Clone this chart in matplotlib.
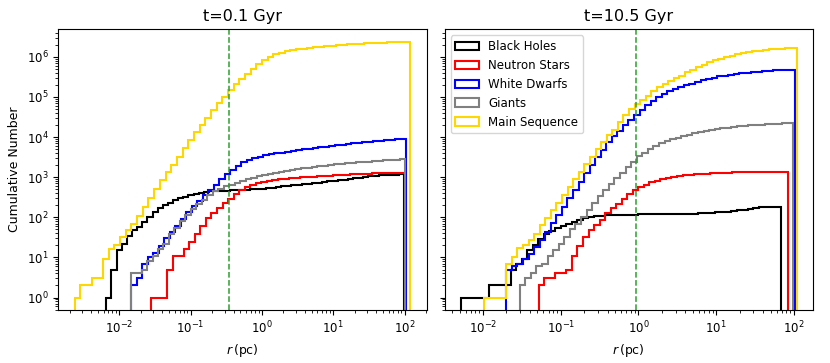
import numpy as np
import matplotlib
matplotlib.use("Agg")
import matplotlib.pyplot as plt

labels = ["Black Holes", "Neutron Stars", "White Dwarfs", "Giants", "Main Sequence"]
colors = ["black", "red", "blue", "grey", "gold"]
titles = ["t=0.1 Gyr", "t=10.5 Gyr"]
rcut = [0.343, 0.92]

# ---- t = 0.1 Gyr : radial range (pc) and cumulative counts per log bin ----
r_range_0 = {
    "Black Holes": (0.00655, 99.5),
    "Neutron Stars": (0.0274, 102.0),
    "White Dwarfs": (0.01466, 106.0),
    "Giants": (0.01435, 102.0),
    "Main Sequence": (0.00236, 118.0),
}
bh_0 = [1, 5, 15, 21, 34, 47, 58, 78, 104, 134, 168, 200, 233, 265, 297, 325, 360, 390,
        410, 435, 445, 452, 458, 462, 467, 472, 478, 485, 495, 505, 520, 535, 550, 570,
        590, 605, 625, 640, 660, 685, 710, 735, 760, 785, 810, 840, 870, 910, 945, 980,
        1010, 1040, 1070, 1100, 1120, 1140, 1160, 1180]
ns_0 = [1, 1, 1, 5, 11, 11, 16, 24, 38, 61, 95, 125, 175, 223, 290, 390, 470, 560, 640,
        700, 760, 800, 840, 880, 910, 940, 965, 990, 1010, 1035, 1055, 1075, 1095, 1110,
        1130, 1150, 1170, 1190, 1210, 1225, 1240, 1255, 1265, 1275, 1285, 1290]
wd_0 = [2, 3, 7, 10, 13, 19, 30, 43, 62, 90, 135, 190, 260, 350, 480, 650, 880, 1200,
        1550, 1950, 2350, 2700, 3000, 3250, 3500, 3700, 3900, 4100, 4300, 4500, 4750,
        4950, 5150, 5350, 5550, 5750, 6000, 6200, 6500, 6750, 7000, 7200, 7400, 7600,
        7850, 8050, 8250, 8500, 8700, 8900]
gi_0 = [4, 4, 5, 8, 11, 16, 22, 38, 55, 80, 115, 160, 215, 270, 360, 440, 520, 590, 650,
        720, 800, 880, 960, 1050, 1130, 1210, 1290, 1370, 1440, 1520, 1590, 1660, 1730,
        1800, 1870, 1940, 2000, 2070, 2130, 2200, 2260, 2320, 2380, 2440, 2500, 2560,
        2620, 2680, 2740, 2800]
ms_0 = [1, 2, 2, 3, 3, 9, 16, 20, 33, 48, 67, 110, 185, 300, 510, 850, 1380, 2000, 3200,
        5200, 8500, 13000, 20000, 30000, 47000, 69000, 100000, 150000, 205000, 280000,
        380000, 490000, 650000, 830000, 990000, 1150000, 1260000, 1360000, 1440000,
        1520000, 1590000, 1650000, 1710000, 1760000, 1810000, 1870000, 1920000, 1970000,
        2020000, 2060000, 2100000, 2140000, 2180000, 2210000, 2240000, 2270000, 2300000,
        2320000, 2350000]

# ---- t = 10.5 Gyr ----
r_range_1 = {
    "Black Holes": (0.00526, 68.1),
    "Neutron Stars": (0.0521, 83.0),
    "White Dwarfs": (0.0200, 103.0),
    "Giants": (0.02965, 96.4),
    "Main Sequence": (0.01028, 108.0),
}
bh_1 = [1, 1, 1, 1, 1, 2, 2, 2, 2, 5, 7, 9, 15, 20, 28, 38, 46, 53, 62, 70, 78, 86, 94,
        101, 106, 110, 112, 113, 114, 115, 116, 117, 118, 118, 119, 119, 120, 120, 121,
        121, 122, 123, 124, 126, 128, 130, 132, 135, 139, 143, 148, 155, 162, 170, 176,
        180, 183, 185]
ns_1 = [2, 3, 3, 4, 4, 5, 11, 19, 32, 48, 63, 86, 126, 170, 220, 290, 380, 470, 560, 650,
        740, 820, 900, 960, 1020, 1070, 1110, 1150, 1180, 1210, 1230, 1250, 1270, 1285,
        1300, 1310, 1320, 1330, 1340, 1345, 1350, 1355, 1360, 1365, 1370]
wd_1 = [5, 6, 7, 9, 12, 18, 27, 44, 71, 114, 185, 300, 480, 770, 1250, 2000, 3250, 4700,
        7700, 10700, 14500, 20000, 27000, 36000, 47000, 62000, 80000, 100000, 120000,
        140000, 155000, 175000, 195000, 215000, 240000, 260000, 280000, 300000, 325000,
        340000, 355000, 375000, 390000, 405000, 415000, 425000, 435000, 445000, 455000,
        460000, 465000, 470000]
gi_1 = [2, 3, 4, 6, 7, 11, 15, 22, 32, 50, 70, 100, 150, 230, 340, 480, 670, 950, 1300,
        1800, 2450, 3300, 4000, 4900, 6000, 6900, 7800, 8700, 9600, 10500, 11500, 12300,
        13200, 14000, 14800, 15600, 16400, 17100, 17800, 18500, 19100, 19600, 20100,
        20500, 20900, 21200, 21500, 21800, 22000]
ms_1 = [1, 1, 1, 1, 7, 10, 17, 20, 27, 38, 64, 98, 153, 224, 360, 560, 900, 1370, 2090,
        3250, 5000, 7700, 11000, 15000, 24000, 35000, 50000, 66000, 82000, 105000,
        140000, 175000, 205000, 245000, 290000, 340000, 410000, 470000, 550000, 630000,
        720000, 810000, 900000, 980000, 1060000, 1140000, 1220000, 1300000, 1370000,
        1430000, 1490000, 1540000, 1570000, 1590000, 1610000, 1620000]

panels = [
    (r_range_0, [bh_0, ns_0, wd_0, gi_0, ms_0]),
    (r_range_1, [bh_1, ns_1, wd_1, gi_1, ms_1]),
]
xlims = [(0.00139, 204.0), (0.00321, 176.0)]

fig, axes = plt.subplots(1, 2, figsize=(8.3, 3.63), dpi=100, sharey=True)
fig.subplots_adjust(left=0.0702, right=0.9795, top=0.919, bottom=0.146, wspace=0.049)

for k, ax in enumerate(axes):
    ranges, series = panels[k]
    for lab, col, vals in zip(labels, colors, series):
        lo, hi = ranges[lab]
        edges = np.geomspace(lo, hi, len(vals) + 1)
        centers = np.sqrt(edges[:-1] * edges[1:])
        ax.hist(centers, bins=edges, weights=vals, histtype="step", color=col,
                lw=1.5, label=lab, log=True)
    ax.axvline(rcut[k], color="tab:green", ls="--", lw=1.1)
    ax.set_xscale("log")
    ax.set_xlim(*xlims[k])
    ax.set_ylim(0.49, 4.8e6)
    ax.set_title(titles[k], fontsize=11.5)
    ax.set_xlabel(r"$r\,$(pc)", fontsize=9)
    ax.tick_params(labelsize=8.5)

axes[0].set_ylabel("Cumulative Number", fontsize=9)
axes[1].legend(loc="upper left", fontsize=8.5)

fig.savefig("out.png", dpi=100)
